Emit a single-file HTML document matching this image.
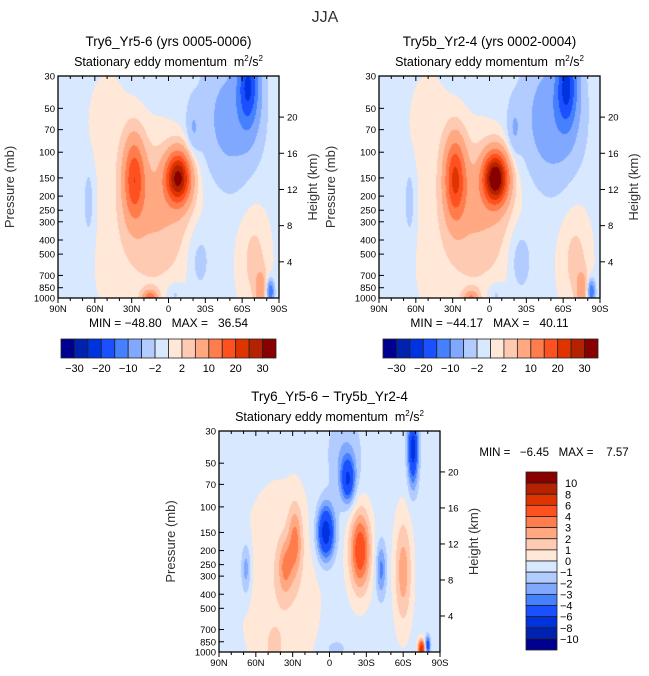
<!DOCTYPE html>
<html><head><meta charset="utf-8">
<style>
body{margin:0;background:#fff;width:649px;height:676px;overflow:hidden;font-family:"Liberation Sans","DejaVu Sans",sans-serif;}
svg{position:absolute;left:0;top:0}
svg text{white-space:pre}
canvas{position:absolute}
</style></head>
<body>
<canvas id="c1" width="221" height="222" style="left:58px;top:76px"></canvas>
<canvas id="c2" width="221" height="222" style="left:379px;top:76px"></canvas>
<canvas id="c3" width="221" height="221" style="left:219px;top:431px"></canvas>
<svg id="s" width="649" height="676"></svg>
<script>
// ---- data ----
const latTicks = [90, 60, 30, 0, -30, -60, -90];
const latLabels = ["90N","60N","30N","0","30S","60S","90S"];
const presTicks = [30, 50, 70, 100, 150, 200, 250, 300, 400, 500, 700, 850, 1000];
const heightTicks = [4, 8, 12, 16, 20];
const levelsAbs = [-30,-25,-20,-15,-10,-5,-2,0,2,5,10,15,20,25,30];
const levelsAbsLabels = ["-30","-20","-10","-2","2","10","20","30"];
const levelsDiff = [-10,-8,-6,-4,-3,-2,-1,0,1,2,3,4,6,8,10];
const colors = ["#000090","#0022b0","#0033e0","#1a50ff","#4580ff","#80a8ff","#b2ccff","#d8e8ff","#ffe8d8","#ffcab2","#ffa882","#ff7c4c","#ff5020","#e03400","#b42200","#880000"];
// blobs: [lat, pressure(mb), amplitude, sigmaLat(deg), sigmaLnP]
const blobs1 = [[28,150,17,6,0.45],[-8,150,30,7,0.28],[10,220,5,18,0.6],[15,500,2.2,32,1.2],[50,60,1.5,12,0.6],[15,1000,14,4,0.08],[-75,880,8,3,0.2],
  [-65,35,-18,6,0.45],[-50,60,-6,16,0.7],[-20,70,-4,4,0.3],[-83,900,-15,2,0.12],[65,220,-3,3,0.4],[-25,550,-3,7,0.4],[-70,550,3.5,9,0.6],[-5,950,-3,5,0.15]];
const blobs2 = [[28,150,19,6,0.45],[-5,150,34,7,0.28],[10,220,5,18,0.6],[15,500,2.2,32,1.2],[50,60,1.5,12,0.6],[15,1000,10,4,0.08],[-75,880,8,3,0.2],
  [-63,35,-18,6,0.45],[-50,60,-7,16,0.7],[-20,70,-4,4,0.3],[-83,900,-15,2,0.12],[65,220,-3,3,0.4],[-25,550,-3.5,7,0.4],[-70,550,3.5,9,0.6],[-5,950,-3,5,0.15]];
const blobsD = [[3,150,-7,5,0.3],[-15,65,-5,4,0.25],[-68,40,-6.5,3,0.4],[68,270,-2.5,3,0.3],[-42,270,-3,3,0.3],[-12,45,-1.5,10,0.5],
  [-25,200,5.5,6,0.45],[28,170,3,4,0.4],[36,260,2.5,4,0.3],[-60,280,3,5,0.6],[-75,950,7.5,2,0.1],[40,350,1.3,22,1.1],[-80,900,-5,1.5,0.1],[-5,950,-1.2,6,0.1],[45,950,1.5,4,0.2]];
const baseAbs = -0.8, baseDiff = -0.4;
// ---- functions ----
const LN = Math.log(1000/30);
function field(blobs, base, lat, p){
  let v = base; const lp = Math.log(p);
  for(const b of blobs){const dl=(lat-b[0])/b[3], dp=(lp-Math.log(b[1]))/b[4]; v+=b[2]*Math.exp(-0.5*(dl*dl+dp*dp));}
  return v;
}
function colorIdx(v, lv){let i=0; while(i<lv.length && v>=lv[i]) i++; return i;}
function hex(c){return [parseInt(c.substr(1,2),16),parseInt(c.substr(3,2),16),parseInt(c.substr(5,2),16)];}
function drawField(id, blobs, base, lv){
  const cv=document.getElementById(id), ctx=cv.getContext('2d'), W=cv.width, H=cv.height;
  const img=ctx.createImageData(W,H);
  for(let y=0;y<H;y++){const p=30*Math.exp(LN*(y+0.5)/H);
    for(let x=0;x<W;x++){const lat=90-180*(x+0.5)/W; const c=hex(colors[colorIdx(field(blobs,base,lat,p),lv)]);
      const k=(y*W+x)*4; img.data[k]=c[0];img.data[k+1]=c[1];img.data[k+2]=c[2];img.data[k+3]=255;}}
  ctx.putImageData(img,0,0);
}
drawField('c1',blobs1,baseAbs,levelsAbs);
drawField('c2',blobs2,baseAbs,levelsAbs);
drawField('c3',blobsD,baseDiff,levelsDiff);
const s=document.getElementById('s'), NS='http://www.w3.org/2000/svg';
function el(tag,attrs,txt){const e=document.createElementNS(NS,tag);for(const k in attrs)e.setAttribute(k,attrs[k]);if(txt!==undefined)e.textContent=txt;s.appendChild(e);return e;}
function frame(x0,y0,w,h,name,title,showMin){
  const xs=lat=>x0+(90-lat)/180*w, ys=p=>y0+Math.log(p/30)/LN*h, yh=km=>ys(1000*Math.exp(-km/7));
  let e=el('rect',{x:x0,y:y0,width:w,height:h,fill:'none',stroke:'#000','stroke-width':1.3});
  
  for(let l=90;l>=-90;l-=10){const big=l%30===0;el('line',{x1:xs(l),x2:xs(l),y1:y0+h,y2:y0+h+(big?5:3),stroke:'#000'});el('line',{x1:xs(l),x2:xs(l),y1:y0,y2:y0+(big?5:3),stroke:'#000'});}
  latTicks.forEach((l,i)=>{e=el('text',{x:xs(l),y:y0+h+14,'font-size':9.5,'text-anchor':'middle'},latLabels[i]);
    });
  presTicks.forEach(p=>{el('line',{x1:x0,x2:x0+5,y1:ys(p),y2:ys(p),stroke:'#000'});
    e=el('text',{x:x0-3,y:ys(p)+3.5,'font-size':9.5,'text-anchor':'end'},p);
    });
  heightTicks.forEach(k=>{el('line',{x1:x0+w,x2:x0+w+5,y1:yh(k),y2:yh(k),stroke:'#000'});
    e=el('text',{x:x0+w+8,y:yh(k)+3.5,'font-size':9.5},k);
    });
  e=el('text',{x:0,y:0,'font-size':13,'text-anchor':'middle',transform:`translate(${x0-44},${y0+h/2}) rotate(-90)`,fill:'#333'},'Pressure (mb)');
  
  e=el('text',{x:0,y:0,'font-size':13,'text-anchor':'middle',transform:`translate(${x0+w+38},${y0+h/2}) rotate(-90)`,fill:'#333'},'Height (km)');
  
  e=el('text',{x:x0+w/2,y:y0-30,'font-size':13.5,'text-anchor':'middle'},title);
  
  e=el('text',{x:x0+w/2,y:y0-10,'font-size':12.5,'text-anchor':'middle'});
  e.innerHTML='Stationary eddy momentum  m<tspan dy="-5" font-size="8">2</tspan><tspan dy="5">/s</tspan><tspan dy="-5" font-size="8">2</tspan>';
  
  if(showMin){e=el('text',{x:x0+w/2,y:y0+h+29,'font-size':12,'text-anchor':'middle'},showMin);
    }
}
frame(58,76,221,222,'panel-try6','Try6_Yr5-6 (yrs 0005-0006)','MIN = −48.80   MAX =   36.54');
frame(379,76,221,222,'panel-try5b','Try5b_Yr2-4 (yrs 0002-0004)','MIN = −44.17   MAX =   40.11');
frame(219,431,221,221,'panel-diff','Try6_Yr5-6 − Try5b_Yr2-4',null);
let t=el('text',{x:325,y:22,'font-size':16,'text-anchor':'middle',fill:'#333'},'JJA');

t=el('text',{x:554,y:456,'font-size':11.5,'text-anchor':'middle'},'MIN =   −6.45   MAX =    7.57');

function hbar(x0,y0,w,h,name){
  const bw=w/colors.length;
  colors.forEach((c,i)=>{const r=el('rect',{x:x0+i*bw,y:y0,width:bw,height:h,fill:c,stroke:'#222','stroke-width':0.8});
    });
  levelsAbsLabels.forEach((lab,j)=>{const i=2*j+1;const tx=el('text',{x:x0+i*bw,y:y0+h+14,'font-size':11,'text-anchor':'middle'},lab.replace('-','−'));
    });
}
hbar(61,339,215,19,'colorbar-try6');
hbar(383,339,215,19,'colorbar-try5b');
(function(){const x0=526,y0=472,w=31,h=178,bh=h/colors.length;
  colors.slice().reverse().forEach((c,i)=>{const r=el('rect',{x:x0,y:y0+i*bh,width:w,height:bh,fill:c,stroke:'#222','stroke-width':0.8});
    });
  levelsDiff.slice().reverse().forEach((v,i)=>{const tx=el('text',{x:x0+w+(v<0?3:8),y:y0+(i+1)*bh+4,'font-size':11},String(v).replace('-','−'));
    });
})();
</script>
</body></html>
